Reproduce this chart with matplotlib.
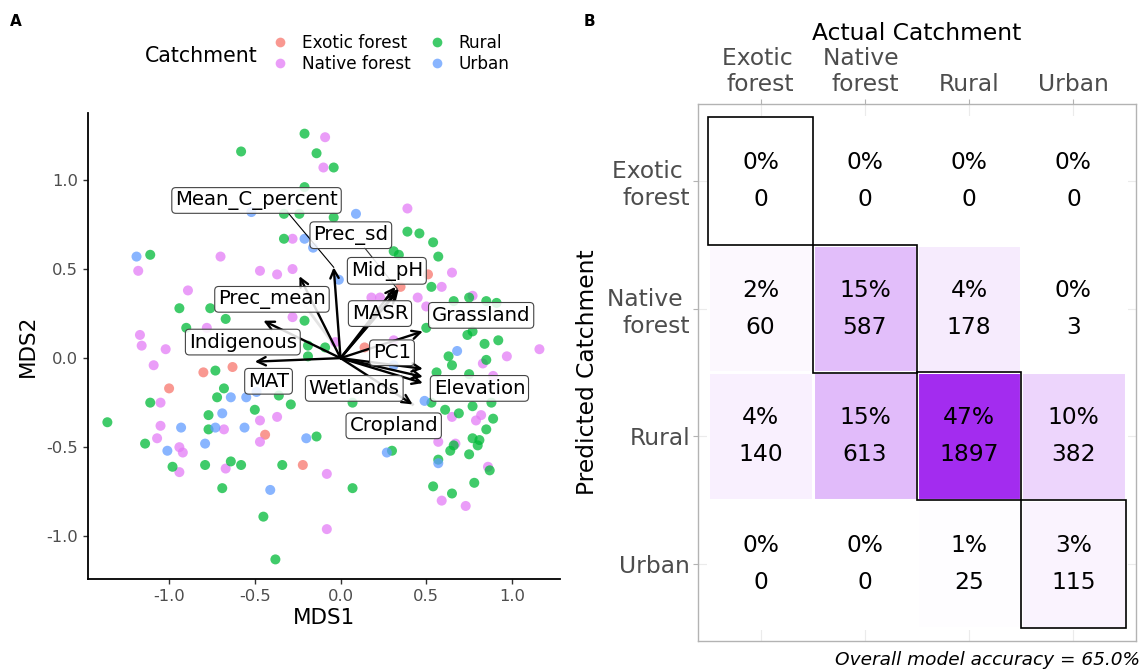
import numpy as np
import matplotlib.pyplot as plt
from matplotlib.patches import Rectangle
from matplotlib.lines import Line2D
from matplotlib.colors import LinearSegmentedColormap, Normalize

plt.rcParams["font.family"] = ["DejaVu Sans"]
plt.rcParams["axes.unicode_minus"] = False

# ---------------- Panel A: NMDS site scores ----------------
exotic_x = [0.35, 0.51, 0.14, -0.80, -0.63, -1.00, -0.44, -0.22]
exotic_y = [0.40, 0.47, 0.06, -0.08, -0.05, -0.17, -0.43, -0.60]

native_x = [-0.09, -0.10, -0.28, -1.18, -0.70, -0.47, -0.37, -0.28, -0.89, -0.28,
            -1.17, -1.16, -1.02, 0.39, 0.65, 0.59, 0.18, 0.23, 0.45, 0.50,
            0.77, 1.16, 0.97, 0.83, 0.89, 0.65, 0.79, 0.82, 0.57, 0.67,
            0.86, 0.59, 0.73, -0.08, -0.08, -1.09, -1.05, -0.37, -0.47, -1.05,
            -0.68, -0.47, -1.07, -0.94, -0.92, -0.94, -0.67, -0.03, 0.31, -0.78]
native_y = [1.24, 1.07, 0.67, 0.49, 0.57, 0.49, 0.47, 0.50, 0.38, 0.23,
            0.13, 0.07, 0.05, 0.84, 0.48, 0.40, 0.34, 0.34, 0.34, 0.29,
            0.35, 0.05, 0.01, -0.03, -0.10, -0.33, -0.35, -0.32, -0.47, -0.48,
            -0.61, -0.80, -0.83, -0.65, -0.96, -0.04, -0.25, -0.33, -0.35, -0.38,
            -0.40, -0.47, -0.45, -0.50, -0.53, -0.64, -0.62, 0.09, 0.10, 0.17]

rural_x = [-0.21, -0.58, -0.14, -0.04, -0.21, -0.33, -0.24, -0.04, -0.33, -1.11,
           -0.94, -0.76, -0.67, -0.21, -0.90, -0.09, 0.39, 0.46, 0.54, 0.31,
           0.34, 0.57, 0.53, 0.66, 0.75, 0.85, 0.91, 0.50, 0.74, 0.77,
           0.84, 0.92, 0.63, 0.65, 0.85, 0.56, 0.75, 0.53, 0.61, 0.69,
           0.77, 0.88, 0.89, 0.85, 0.77, 0.81, 0.80, 0.75, 0.64, 0.66,
           0.30, 0.57, 0.87, 0.78, 0.54, 0.65, 0.07, -0.14, 0.07, -0.19,
           -0.19, -0.73, -0.68, -0.72, -0.36, -0.29, -1.11, -0.77, -0.50, -1.36,
           -0.77, -1.14, -0.98, -0.79, -0.64, -0.58, -0.34, -0.69, -0.45, -0.38]
rural_y = [1.26, 1.16, 1.15, 1.07, 0.96, 0.81, 0.81, 0.79, 0.67, 0.58,
           0.28, 0.28, 0.22, 0.21, 0.17, 0.06, 0.71, 0.70, 0.65, 0.60,
           0.58, 0.57, 0.40, 0.32, 0.34, 0.32, 0.31, 0.17, 0.13, 0.15,
           0.08, 0.10, 0.01, -0.04, -0.01, -0.08, -0.09, -0.25, -0.29, -0.31,
           -0.27, -0.25, -0.34, -0.40, -0.45, -0.46, -0.49, -0.54, -0.52, -0.49,
           -0.52, -0.57, -0.63, -0.70, -0.72, -0.76, -0.73, -0.44, -0.25, 0.07,
           0.01, -0.07, -0.17, -0.22, -0.21, -0.26, -0.25, -0.32, -0.29, -0.36,
           -0.40, -0.48, -0.61, -0.60, -0.58, -0.60, -0.60, -0.73, -0.89, -1.13]

urban_x = [-0.52, -0.21, -0.16, -1.19, 0.09, -0.01, 0.68, 0.49, 0.27, 0.57,
           -0.20, 0.31, -0.64, -0.55, -0.49, -0.69, -0.56, -0.93, -0.73, -1.01,
           -0.79, -0.41]
urban_y = [0.82, 0.67, 0.62, 0.57, 0.81, 0.44, 0.04, -0.24, -0.53, -0.59,
           -0.45, -0.04, -0.22, -0.22, -0.19, -0.31, -0.39, -0.39, -0.39, -0.52,
           -0.48, -0.74]

# fitted environmental vectors (arrow tips) and their label positions
vec_names = ["Mean_C_percent", "Prec_sd", "Mid_pH", "Prec_mean", "MASR", "Grassland",
             "Indigenous", "PC1", "MAT", "Wetlands", "Elevation", "Cropland"]
vec_x = [-0.04, 0.32, 0.34, -0.24, 0.33, 0.48, -0.45, 0.48, -0.50, 0.48, 0.48, 0.42]
vec_y = [0.51, 0.40, 0.39, 0.46, 0.37, 0.15, 0.21, -0.06, -0.02, -0.14, -0.105, -0.26]
lab_x = [-0.49, 0.06, 0.27, -0.40, 0.23, 0.82, -0.57, 0.30, -0.42, 0.08, 0.81, 0.31]
lab_y = [0.885, 0.69, 0.49, 0.33, 0.25, 0.24, 0.09, 0.03, -0.13, -0.17, -0.17, -0.38]

# ---------------- Panel B: confusion matrix ----------------
class_labels = ["Exotic \nforest", "Native \nforest", "Rural", "Urban"]
counts = [[0, 0, 0, 0],
          [60, 587, 178, 3],
          [140, 613, 1897, 382],
          [0, 0, 25, 115]]
pcts = [[0, 0, 0, 0],
        [2, 15, 4, 0],
        [4, 15, 47, 10],
        [0, 0, 1, 3]]
accuracy = 65.0

W, H = 1143, 670
fig = plt.figure(figsize=(W / 100, H / 100), dpi=100)

# ---- panel A ----
axA = fig.add_axes([88 / W, 1 - 579 / H, 472 / W, 466 / H])
cols = {"Exotic forest": "#F8766D", "Native forest": "#E47DF6",
        "Rural": "#00BA38", "Urban": "#619CFF"}
for name, xs, ys in [("Exotic forest", exotic_x, exotic_y),
                     ("Native forest", native_x, native_y),
                     ("Rural", rural_x, rural_y),
                     ("Urban", urban_x, urban_y)]:
    axA.scatter(xs, ys, s=52, color=cols[name], alpha=0.75, edgecolors="none", zorder=2)

# connector segments from labels
axA.plot([-0.31, -0.04], [0.82, 0.51], color="black", lw=0.8, zorder=3)
axA.plot([0.14, 0.33], [0.62, 0.39], color="#333333", lw=0.8, zorder=3)
axA.plot([0.15, 0.33], [0.18, 0.38], color="#BBBBBB", lw=2, alpha=0.5, zorder=3)
axA.plot([0.25, 0.42], [-0.12, -0.26], color="#BBBBBB", lw=2, alpha=0.5, zorder=3)
axA.plot([-0.22, -0.05], [0.31, 0.09], color="#BBBBBB", lw=2, alpha=0.4, zorder=3)

for vx, vy in zip(vec_x, vec_y):
    axA.annotate("", xy=(vx, vy), xytext=(0, 0),
                 arrowprops=dict(arrowstyle="->,head_length=0.6,head_width=0.3",
                                 lw=1.7, color="black", shrinkA=0, shrinkB=0),
                 zorder=4)

for name, lx, ly in zip(vec_names, lab_x, lab_y):
    axA.text(lx, ly, name, ha="center", va="center", fontsize=14.2, zorder=5,
             bbox=dict(boxstyle="round,pad=0.17,rounding_size=0.2",
                       fc=(1, 1, 1, 0.85), ec="#444444", lw=0.8))

axA.set_xlim(-1.473, 1.28)
axA.set_ylim(-1.24, 1.376)
axA.set_xticks([-1.0, -0.5, 0.0, 0.5, 1.0])
axA.set_yticks([-1.0, -0.5, 0.0, 0.5, 1.0])
axA.set_xticklabels(["-1.0", "-0.5", "0.0", "0.5", "1.0"])
axA.set_yticklabels(["-1.0", "-0.5", "0.0", "0.5", "1.0"])
for s in ["top", "right"]:
    axA.spines[s].set_visible(False)
for s in ["left", "bottom"]:
    axA.spines[s].set_linewidth(1.3)
axA.tick_params(colors="#333333", labelcolor="#4D4D4D", labelsize=11.8, length=3.5, width=1)
axA.set_xlabel("MDS1", fontsize=15.5, labelpad=3)
axA.set_ylabel("MDS2", fontsize=15.5, labelpad=6)

# legend
handles = [Line2D([], [], ls="none", marker="o", ms=7, color=cols[k], alpha=0.75, mec="none")
           for k in cols]
fig.legend(handles, list(cols.keys()), ncol=2, loc="upper left",
           bbox_to_anchor=(272 / W, 1 - 34 / H), frameon=False, fontsize=12.2,
           handlelength=1.0, handletextpad=0.8, columnspacing=1.0,
           labelspacing=0.2, borderpad=0, borderaxespad=0)
fig.text(201 / W, 1 - 56 / H, "Catchment", fontsize=14.8, ha="center", va="center")
fig.text(10 / W, 1 - 22 / H, "A", fontsize=11, fontweight="bold", va="center")

# ---- panel B ----
axB = fig.add_axes([698 / W, 1 - 641 / H, 438 / W, 537 / H])
cmap = LinearSegmentedColormap.from_list("wp", ["#FFFFFF", "#A32CEF"])
norm = Normalize(0, max(max(r) for r in counts))
for i in range(4):
    axB.axhline(i + 1, color="#EBEBEB", lw=0.8, zorder=0)
    axB.axvline(i + 1, color="#EBEBEB", lw=0.8, zorder=0)
for i in range(4):
    for j in range(4):
        axB.add_patch(Rectangle((j + 0.5, i + 0.5), 1, 1, fc=cmap(norm(counts[i][j])),
                                ec="white", lw=2.2, zorder=1))
        axB.text(j + 1, i + 1 - 0.145, f"{pcts[i][j]}%", ha="center", va="center",
                 fontsize=16.8, zorder=3)
        axB.text(j + 1, i + 1 + 0.145, f"{counts[i][j]}", ha="center", va="center",
                 fontsize=16.8, zorder=3)
    axB.add_patch(Rectangle((i + 0.5, i + 0.5), 1, 1, fill=False, ec="black",
                            lw=1.2, zorder=2))

axB.set_xlim(0.4, 4.6)
axB.set_ylim(4.6, 0.4)
axB.xaxis.tick_top()
axB.xaxis.set_label_position("top")
axB.set_xticks([1, 2, 3, 4])
axB.set_xticklabels(class_labels)
axB.set_yticks([1, 2, 3, 4])
axB.set_yticklabels(class_labels)
for s in axB.spines.values():
    s.set_color("#B3B3B3")
    s.set_linewidth(1)
axB.tick_params(colors="#B3B3B3", labelcolor="#4D4D4D", labelsize=16.8,
                length=3.5, width=0.8, pad=2)
axB.set_xlabel("Actual Catchment", fontsize=16.8, labelpad=5)
axB.set_ylabel("Predicted Catchment", fontsize=16.8, labelpad=6)
fig.text(1140 / W, 1 - 660 / H, f"Overall model accuracy = {accuracy:.1f}%",
         fontsize=13.3, style="italic", ha="right", va="center")
fig.text(584 / W, 1 - 22 / H, "B", fontsize=11, fontweight="bold", va="center")

fig.savefig("out.png", dpi=100)
